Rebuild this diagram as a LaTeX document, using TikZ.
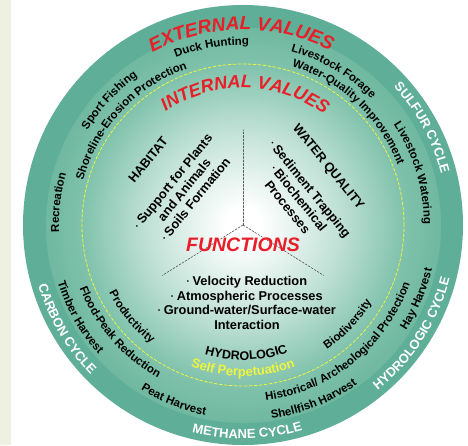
\documentclass[tikz,border=0pt]{standalone}
\usepackage{fontspec}
\setmainfont{Liberation Sans}
\usetikzlibrary{decorations.text}

\definecolor{stripbg}{RGB}{238,241,225}
\definecolor{ringdark}{RGB}{95,174,151}
\definecolor{ringmid}{RGB}{112,184,160}
\definecolor{ringin}{RGB}{128,194,172}
\definecolor{valred}{RGB}{232,30,40}
\definecolor{selfyellow}{RGB}{238,245,60}

% 25bp is the rim of the disc
\pgfdeclareradialshading{wetland}{\pgfpoint{0bp}{0bp}}{%
  color(0bp)=(white); color(2bp)=(white);
  color(11bp)=(ringin!50!white);
  color(18.3bp)=(ringin);
  color(22.4bp)=(ringmid);
  color(22.45bp)=(ringdark);
  color(25bp)=(ringdark);
  color(50bp)=(ringdark)}

\newcommand{\lblfont}{\fontsize{11.5}{13}\selectfont\bfseries}
\newcommand{\cycfont}{\fontsize{13}{15}\selectfont\bfseries}
\newcommand{\valfont}{\fontsize{19}{21}\selectfont\bfseries\itshape}
\newcommand{\secfont}{\fontsize{12.8}{14.5}\selectfont\bfseries}
\newcommand{\bul}{\raisebox{.3ex}{\fontsize{6}{6}\selectfont\textbullet}~}

% text on an arc: radius, middle angle, colour, font, text
\newcommand{\cwlabel}[5]{%
  \path[decorate,decoration={text along path,text align=center,text color=#3,text={|#4|#5}}]
    ({#2+70}:#1) arc[start angle={#2+70},end angle={#2-70},radius=#1];}
\newcommand{\ccwlabel}[5]{%
  \path[decorate,decoration={text along path,text align=center,text color=#3,text={|#4|#5}}]
    ({#2-70}:#1) arc[start angle={#2-70},end angle={#2+70},radius=#1];}

\begin{document}
\begin{tikzpicture}[
	x=1pt,y=1pt,
	line cap=round,
	line join=round,
	sect/.style={font=\secfont,align=center},
	func/.style={font=\fontsize{19.5}{21}\selectfont\bfseries\itshape,text=valred},
	divider/.style={draw=black!65,line width=0.6pt,dash pattern=on 2pt off 1.5pt},
	selfline/.style={draw=selfyellow,line width=0.8pt,dash pattern=on 3pt off 2pt}
	]
	\useasboundingbox (-243,-220) rectangle (225,225);
	\fill[white] (-243,-220) rectangle (225,225);
	\fill[stripbg] (-243,-220) rectangle (-232,225);

	\coordinate (ctr) at (0,0);
	\shade[shading=wetland] (ctr) circle[radius=220];
	\draw[selfline] (ctr) circle[radius=161];

	% the three sectors
	\coordinate (sec1) at (90:95);
	\coordinate (sec2) at (212:95);
	\coordinate (sec3) at (328:95);
	\draw[divider] (ctr) -- (sec1);
	\draw[divider] (ctr) -- (sec2);
	\draw[divider] (ctr) -- (sec3);

	\node[sect,rotate=51] (habitat) at (-95,65) {HABITAT};
	\node[sect,rotate=51] (habitatlist) at (-59,35) {\bul Support for Plants\\and Animals\\\bul Soils Formation};
	\node[sect,rotate=-51] (water) at (85,58) {WATER QUALITY};
	\node[sect,rotate=-51] (waterlist) at (56,27) {\bul Sediment Trapping\\\bul Biochemical\\Processes};
	\node[func] (functions) at (0,-20) {FUNCTIONS};
	\node[sect] (hydrolist) at (4,-78) {\bul Velocity Reduction\\\bul Atmospheric Processes\\\bul Ground-water/Surface-water\\Interaction};

	% values
	\cwlabel{195}{90.5}{valred}{\valfont}{EXTERNAL VALUES}
	\cwlabel{137}{89}{valred}{\fontsize{18}{20}\selectfont\bfseries\itshape}{INTERNAL VALUES}

	% outer ring, upper half
	\cwlabel{180}{100}{black}{\lblfont}{Duck Hunting}
	\cwlabel{180}{59.5}{black}{\lblfont}{Livestock Forage}
	\cwlabel{166}{47}{black}{\lblfont}{Water-Quality Improvement}
	\cwlabel{182}{137}{black}{\lblfont}{Sport Fishing}
	\cwlabel{166}{137}{black}{\lblfont}{Shoreline-Erosion Protection}
	\cwlabel{184}{173}{black}{\lblfont}{Recreation}
	\cwlabel{181}{17}{black}{\lblfont}{Livestock Watering}

	% outer ring, lower half
	\ccwlabel{194}{-23}{black}{\lblfont}{Hay Harvest}
	\ccwlabel{177}{-51}{black}{\lblfont}{Historical/ Archeological Protection}
	\ccwlabel{196}{-68}{black}{\lblfont}{Shellfish Harvest}
	\ccwlabel{194}{-111.5}{black}{\lblfont}{Peat Harvest}
	\ccwlabel{175}{221}{black}{\lblfont}{Flood-Peak Reduction}
	\ccwlabel{194}{209.5}{black}{\lblfont}{Timber Harvest}

	% inner ring
	\ccwlabel{150}{219.5}{black}{\lblfont}{Productivity}
	\ccwlabel{150}{-43.4}{black}{\lblfont}{Biodiversity}
	\ccwlabel{135}{-88.5}{black}{\fontsize{12.5}{14}\selectfont\bfseries}{HYDROLOGIC}
	\ccwlabel{151}{-90}{selfyellow}{\fontsize{13}{15}\selectfont\bfseries}{Self Perpetuation}

	% cycles
	\cwlabel{204.5}{28.5}{white}{\cycfont}{SULFUR CYCLE}
	\ccwlabel{213.5}{-32.7}{white}{\cycfont}{HYDROLOGIC CYCLE}
	\ccwlabel{213.5}{-88.8}{white}{\cycfont}{METHANE CYCLE}
	\ccwlabel{213.5}{210.5}{white}{\cycfont}{CARBON CYCLE}
\end{tikzpicture}
\end{document}
